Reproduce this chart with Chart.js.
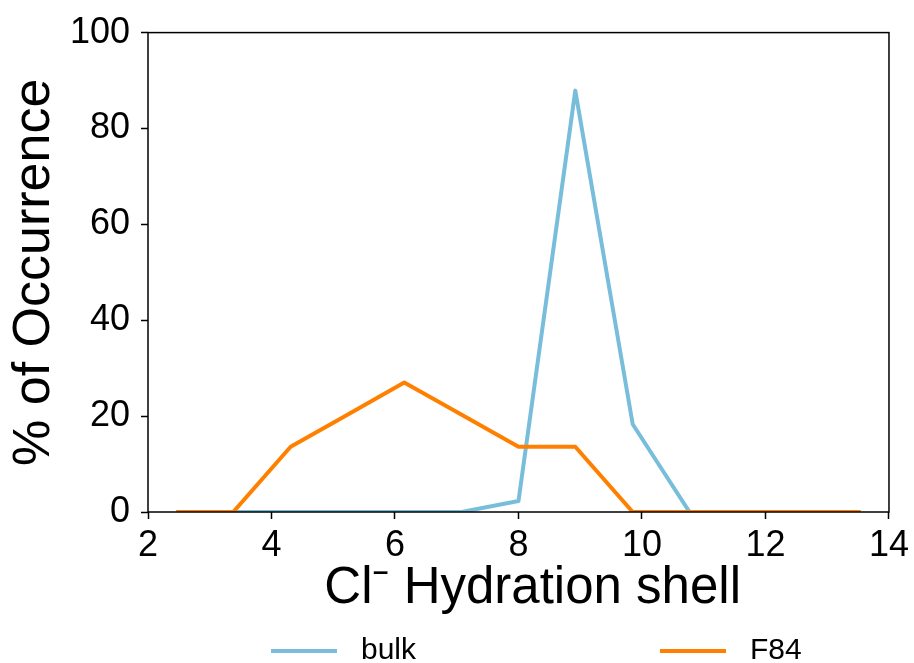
<!DOCTYPE html>
<html>
<head>
<meta charset="utf-8">
<script src="https://cdn.jsdelivr.net/npm/chart.js@4.4.1/dist/chart.umd.min.js"></script>
<style>
  html, body { margin: 0; padding: 0; background: #fff; }
  #wrap { width: 914px; height: 663px; position: relative; }
</style>
</head>
<body>
<div id="wrap"><canvas id="c" width="914" height="663"></canvas></div>
<script>
// ---- data ----
const shellSizes = [2.46, 3.38, 4.31, 5.23, 6.15, 7.08, 8.00, 8.92, 9.85, 10.77, 11.69, 12.62, 13.54];
const bulkValues = [0, 0, 0, 0, 0, 0, 2.3, 87.9, 18.3, 0, 0, 0, 0];
const f84Values  = [0, 0, 13.6, 20.3, 27.0, 20.3, 13.6, 13.6, 0, 0, 0, 0, 0];
const seriesLabels = ['bulk', 'F84'];
const xTickValues = [2, 4, 6, 8, 10, 12, 14];
const yTickValues = [0, 20, 40, 60, 80, 100];
const xTitle = 'Cl\u207B Hydration shell';
const yTitle = '% of Occurrence';

const colBulk = '#78bedb';
const colF84 = '#ff8000';
const FONT = 'Arial, "Liberation Sans", Helvetica, sans-serif';

const toPts = (xs, ys) => xs.map((x, i) => ({ x: x, y: ys[i] }));

const framePlugin = {
  id: 'frame',
  afterDatasetsDraw(chart) {
    const { ctx, chartArea: a } = chart;
    ctx.save();
    ctx.strokeStyle = '#000';
    ctx.lineWidth = 1.5;
    ctx.strokeRect(a.left, a.top, a.right - a.left, a.bottom - a.top);
    ctx.restore();
  }
};

const legendPlugin = {
  id: 'bottomLegend',
  afterDraw(chart) {
    const { ctx, chartArea: a } = chart;
    const w = a.right - a.left;
    const fr = [0.166, 0.691];
    ctx.save();
    chart.data.datasets.forEach((ds, i) => {
      const x0 = a.left + fr[i] * w;
      const y = 651;
      ctx.strokeStyle = ds.borderColor;
      ctx.lineWidth = 4;
      ctx.beginPath();
      ctx.moveTo(x0, y);
      ctx.lineTo(x0 + 66, y);
      ctx.stroke();
      ctx.fillStyle = '#000';
      ctx.font = '30px ' + FONT;
      ctx.textBaseline = 'middle';
      ctx.textAlign = 'left';
      ctx.fillText(ds.label, x0 + 90, y);
    });
    ctx.restore();
  }
};

new Chart(document.getElementById('c'), {
  type: 'line',
  data: {
    datasets: [
      { label: seriesLabels[0], data: toPts(shellSizes, bulkValues), borderColor: colBulk, backgroundColor: colBulk,
        borderWidth: 4, pointRadius: 0, tension: 0, borderJoinStyle: 'round', order: 1 },
      { label: seriesLabels[1], data: toPts(shellSizes, f84Values), borderColor: colF84, backgroundColor: colF84,
        borderWidth: 4, pointRadius: 0, tension: 0, borderJoinStyle: 'round', order: 0 }
    ]
  },
  options: {
    responsive: false,
    animation: false,
    layout: { padding: { top: 30, right: 24, bottom: 0, left: 0 } },
    plugins: { legend: { display: false }, tooltip: { enabled: false } },
    scales: {
      x: {
        type: 'linear', min: 2, max: 14,
        afterBuildTicks: s => { s.ticks = xTickValues.map(v => ({ value: v })); },
        afterFit: s => { s.height = 151; },
        ticks: { color: '#000', font: { family: FONT, size: 36 }, padding: 5, maxRotation: 0 },
        grid: { display: true, drawOnChartArea: false, drawTicks: true, tickLength: 7, tickColor: '#000', tickWidth: 1.5 },
        border: { display: false },
        title: { display: true, text: '  ' + xTitle, color: '#000', font: { family: FONT, size: 51 }, padding: { top: 0, bottom: 43 } }
      },
      y: {
        type: 'linear', min: 0, max: 100,
        afterBuildTicks: s => { s.ticks = yTickValues.map(v => ({ value: v })); },
        afterFit: s => { s.width = 148; },
        ticks: { color: '#000', font: { family: FONT, size: 36 }, padding: 11 },
        grid: { display: true, drawOnChartArea: false, drawTicks: true, tickLength: 7, tickColor: '#000', tickWidth: 1.5 },
        border: { display: false },
        title: { display: true, text: yTitle, color: '#000', font: { family: FONT, size: 52 }, padding: { top: 3, bottom: 0 } }
      }
    }
  },
  plugins: [framePlugin, legendPlugin]
});
</script>
</body>
</html>
